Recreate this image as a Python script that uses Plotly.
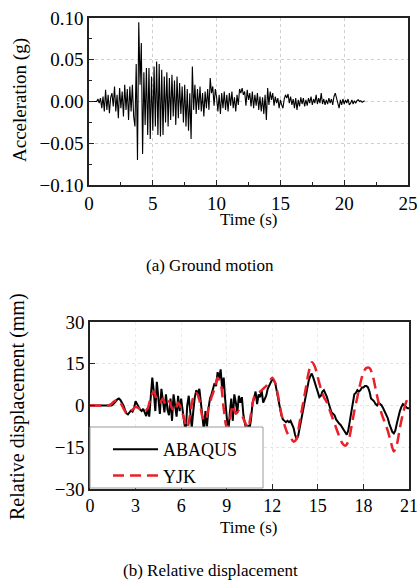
import numpy as np
import plotly.graph_objects as go

# ---------------- data ----------------
acc_dt = 0.1
acc_g = [
    0, 0, 0, 0, 0, 0, 0, 0.003, -0.002, 0.004,
    -0.008, 0.006, -0.012, 0.014, -0.010, 0.008, -0.014, 0.005, 0.010, -0.006,
    0.018, -0.012, 0.008, -0.020, 0.016, -0.008, 0.012, -0.018, 0.020, -0.010,
    0.015, -0.022, 0.018, -0.012, 0.020, -0.018, -0.030, 0.045, -0.070, 0.095,
    0.020, 0.070, -0.063, 0.035, -0.028, 0.040, -0.040, 0.040, -0.045, 0.030,
    -0.035, 0.042, -0.030, 0.048, -0.040, 0.045, -0.042, 0.038, -0.040, 0.030,
    -0.025, 0.035, -0.030, 0.028, -0.022, 0.032, -0.018, 0.025, -0.028, 0.030,
    -0.020, 0.022, -0.015, 0.018, -0.025, 0.020, -0.030, 0.015, -0.035, 0.010,
    -0.045, 0.042, -0.010, 0.020, -0.015, 0.015, -0.010, 0.018, -0.012, 0.010,
    -0.018, 0.012, -0.008, 0.015, -0.010, 0.028, 0.010, 0.018, -0.005, 0.015,
    0.005, -0.012, 0.008, -0.015, 0.010, -0.008, 0.012, -0.010, 0.008, -0.012,
    0.010, -0.005, 0.012, -0.008, 0.005, -0.012, 0.008, -0.004, 0.015, 0.010,
    0.016, 0.008, 0.012, -0.005, 0.014, 0.002, 0.010, -0.006, 0.012, -0.008,
    0.008, -0.005, 0.010, -0.010, 0.006, -0.012, 0.005, -0.015, 0.008, -0.022,
    0.016, -0.004, 0.012, 0.002, 0.010, -0.005, 0.006, -0.002, 0.004, -0.008,
    0.002, -0.004, -0.008, 0.003, 0.008, 0.004, 0.009, -0.002, 0.006, -0.004,
    0.003, -0.008, 0.004, -0.010, 0.002, -0.006, 0.005, -0.003, 0.004, -0.006,
    0.002, -0.005, 0.004, -0.002, 0.006, -0.004, 0.003, -0.002, 0.008, -0.003,
    0.004, -0.002, 0.010, -0.003, 0.003, -0.004, 0.002, -0.003, 0.004, -0.002,
    0.003, -0.004, 0.006, 0.010, 0.004, -0.005, -0.008, 0.002, -0.004, 0.003,
    -0.003, 0.002, -0.002, 0.003, -0.004, -0.002, 0.002, -0.003, 0.001, -0.002,
    0.001, 0.002, 0.000, 0.001, -0.001, 0.000, 0.001,
]
acc_t = [round(i * acc_dt, 2) for i in range(len(acc_g))]

abaqus_dt = 0.1
abaqus_mm = [
    0, 0, 0, 0, 0, 0, 0, 0, 0, 0,
    0, 0, 0, 0, 0, 0.3, 0.8, 1.5, 2.2, 2.5,
    2.0, 1.2, 0.0, -1.5, -2.8, -3.2, -2.5, -1.8, -2.2, -1.0,
    1.5, 0.5, -1.0, -1.5, -2.0, -1.2, -2.5, -3.8, -1.0, -4.0,
    3.0, 10.0, 5.0, -2.0, 8.5, 2.0, -3.0, 6.0, 0.5, -2.5,
    4.0, -1.5, -3.5, 2.5, -5.5, 4.0, 0.0, -4.0, 3.5, -2.0,
    2.5, -3.0, -6.0, -9.5, 0.0, 3.5, -4.0, -8.0, -2.0, 3.0,
    5.5, 4.0, 6.0, 0.5, -4.0, -9.0, -2.0, -7.5, -1.0, 2.5,
    4.0, 6.0, 8.0, 7.0, 12.0, 9.5, 13.0, 6.0, 10.0, 2.0,
    -4.0, -10.0, -3.0, 2.5, -5.5, 4.0, 1.0, -2.5, 3.5, 1.0,
    3.0, -3.5, -6.5, -9.0, -7.0, -8.5, -5.0, 1.0, 2.5, 5.0,
    0.5, 4.0, 3.0, 5.5, 1.0, 2.0, 3.5, 6.0, 7.0, 8.0,
    9.5, 9.0, 8.0, 5.0, 2.0, -1.0, -3.5, -5.0, -5.5, -6.0,
    -5.5, -6.0, -5.5, -6.5, -8.0, -10.5, -12.0, -11.0, -8.0, -5.0,
    -2.0, 1.0, 4.0, 7.0, 9.0, 10.5, 11.5, 10.0, 8.0, 6.0,
    4.0, 3.0, 3.5, 5.0, 5.5, 4.5, 3.0, 1.0, -1.0, -2.5,
    -3.0, -3.5, -5.0, -6.0, -6.5, -7.0, -8.0, -9.0, -10.0, -10.5,
    -9.0, -6.0, -2.0, 1.5, 4.0, 4.5, 5.5, 5.0, 5.5, 6.5,
    6.5, 7.0, 7.0, 6.5, 5.0, 2.5, 2.0, 1.5, 0.5, 0.0,
    1.0, 0.5, 0.0, -1.0, -2.0, -3.0, -4.5, -6.5, -8.5, -9.5,
    -10.0, -9.0, -6.5, -4.0, -2.0, -0.5, 0.5, 0.0, -0.5, -1.0,
    -1.0,
]
abaqus_t = [round(i * abaqus_dt, 2) for i in range(len(abaqus_mm))]

yjk_dt = 0.2
yjk_mm = [
    0, 0, 0, 0, 0, 0, 0, 0.5, 1.5, 2.0,
    1.0, -1.0, -2.8, -2.5, -1.5, -0.5, -1.0, -1.5, -2.0, -1.0,
    3.0, 5.0, 2.0, 1.0, 2.5, 0.0, 1.5, -1.0, -2.0, 1.0,
    -1.0, -5.0, -8.0, -3.0, 3.0, 4.5, 2.0, -4.0, -5.5, -1.0,
    3.0, 6.0, 10.0, 8.0, -1.0, -8.0, -5.0, 0.0, -3.0, -2.0,
    -3.5, -6.0, -8.0, -3.0, 3.0, 4.5, 5.0, 6.0, 7.0, 8.5,
    10.0, 8.0, 3.0, -3.0, -7.0, -10.0, -11.5, -13.0, -12.0, -6.0,
    0.0, 6.0, 12.0, 15.5, 14.0, 10.0, 6.0, 3.0, 1.0, -2.0,
    -5.0, -8.0, -11.0, -13.5, -14.5, -13.0, -8.0, -2.0, 3.0, 8.0,
    12.0, 13.5, 13.5, 11.0, 6.0, 1.0, -3.0, -6.0, -9.0, -13.0,
    -16.5, -14.0, -8.0, -3.0, 1.0, 4.0,
]
yjk_t = [round(i * yjk_dt, 2) for i in range(len(yjk_mm))]

top_xticks = [0, 5, 10, 15, 20, 25]
top_yticks = [-0.10, -0.05, 0.00, 0.05, 0.10]
bot_xticks = [0, 3, 6, 9, 12, 15, 18, 21]
bot_yticks = [-30, -15, 0, 15, 30]

# ---------------- layout helpers ----------------
W, H = 417, 583
def px_x(p):
    return p / W
def px_y(p):
    return 1 - p / H

FONT = "Liberation Serif"
AX = "#222222"

fig = go.Figure()
fig.add_trace(go.Scatter(x=acc_t, y=acc_g, mode="lines", xaxis="x", yaxis="y",
                         line=dict(color="black", width=1.1), showlegend=False))
fig.add_trace(go.Scatter(x=abaqus_t, y=abaqus_mm, mode="lines", xaxis="x2", yaxis="y2",
                         name="ABAQUS", line=dict(color="black", width=2)))
fig.add_trace(go.Scatter(x=yjk_t, y=yjk_mm, mode="lines", xaxis="x2", yaxis="y2",
                         name="YJK", line=dict(color="#e8202a", width=2.5, dash="11px,6px",
                                               shape="spline", smoothing=0.8)))

def common(size):
    return dict(showline=True, mirror=True, linecolor=AX, linewidth=1.5,
                ticks="inside", ticklen=5, tickcolor=AX, zeroline=False,
                automargin=False, ticklabeloverflow="allow",
                tickfont=dict(family=FONT, size=size, color="black"))

fig.update_layout(
    width=W, height=H, margin=dict(l=0, r=0, t=0, b=0, autoexpand=False),
    paper_bgcolor="white", plot_bgcolor="white",
    font=dict(family=FONT, color="black"),
    xaxis=dict(domain=[px_x(89), px_x(408)], range=[0, 25], tickvals=top_xticks,
               showgrid=True, gridcolor="#cfcfcf", griddash="dot", gridwidth=1,
               minor=dict(ticks="inside", ticklen=3, tickcolor=AX, dtick=2.5),
               anchor="y", **common(19)),
    yaxis=dict(domain=[px_y(185), px_y(18)], range=[-0.1, 0.1], tickvals=top_yticks,
               tickformat=".2f", showgrid=True, gridcolor="#cfcfcf", griddash="dot", gridwidth=1,
               minor=dict(ticks="inside", ticklen=3, tickcolor=AX, dtick=0.025),
               anchor="x", **common(19)),
    xaxis2=dict(domain=[px_x(90), px_x(409)], range=[0, 21], tickvals=bot_xticks,
                showgrid=True, gridcolor="#ececec", griddash="dot", gridwidth=1,
                anchor="y2", **common(18)),
    yaxis2=dict(domain=[px_y(489), px_y(322)], range=[-30, 30], tickvals=bot_yticks,
                showgrid=True, gridcolor="#e4e4e4", griddash="dot", gridwidth=1,
                anchor="x2", **common(19)),
    legend=dict(x=px_x(108), y=px_y(431), xanchor="left", yanchor="top",
                bgcolor="rgba(0,0,0,0)", borderwidth=0,
                font=dict(family=FONT, size=18, color="black"),
                tracegroupgap=0, itemwidth=45),
)

# legend box (white, covering curves)
fig.add_shape(type="rect", xref="paper", yref="paper",
              x0=px_x(90), x1=px_x(263), y0=px_y(488), y1=px_y(427),
              fillcolor="white", line=dict(color="#9a9a9a", width=1), layer="above")

def note(text, xp, yp, size=17, angle=0, yanchor="middle"):
    fig.add_annotation(text=text, x=px_x(xp), y=px_y(yp), xref="paper", yref="paper",
                       xanchor="center", yanchor=yanchor, textangle=angle,
                       showarrow=False, font=dict(family=FONT, size=size, color="black"))

note("Time (s)", 249, 219, 17)
note("Acceleration (g)", 20, 100, 19, -90)
note("(a) Ground motion", 210, 265, 17)
note("Time (s)", 249, 527, 17)
note("Relative displacement (mm)", 17, 407, 20, -90)
note("(b) Relative displacement", 210, 570, 17)

fig.write_html("out.html")
